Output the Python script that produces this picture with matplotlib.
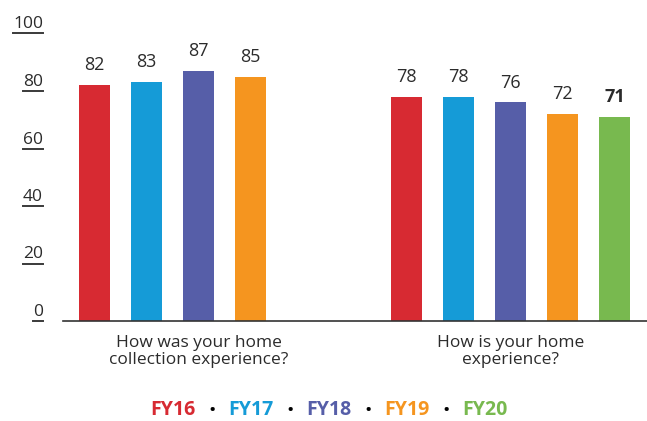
import matplotlib.pyplot as plt
from matplotlib.lines import Line2D

plt.rcParams['font.family'] = ['Open Sans', 'DejaVu Sans']

# survey results per question and year
questions = ["How was your home\ncollection experience?", "How is your home\nexperience?"]
years = ["FY16", "FY17", "FY18", "FY19", "FY20"]
collection_scores = [82, 83, 87, 85]
home_scores = [78, 78, 76, 72, 71]
yticks = [0, 20, 40, 60, 80, 100]

colors = ["#D72A32", "#159BD7", "#565EA8", "#F5951F", "#78B94F"]
text_col = "#2b2b2b"

fig = plt.figure(figsize=(6.47, 4.21), dpi=100)
W, H = 647, 421
ax = fig.add_axes([63 / W, 100 / H, 584 / W, 287.5 / H])

slot = 6  # each question reserves room for 5 bars plus a gap
for g, scores in enumerate([collection_scores, home_scores]):
    for i, v in enumerate(scores):
        x = g * slot + i
        ax.bar(x, v, width=0.6, color=colors[i])
        last = (g == 1 and i == len(scores) - 1)
        ax.annotate(str(v), xy=(x, v), xytext=(0, 15), textcoords='offset pixels',
                    ha='center', va='baseline', fontsize=13, color=text_col,
                    fontweight='bold' if last else 'normal')

ax.set_xlim(-0.606, 10.625)
ax.set_ylim(0, 100)
ax.set_xticks([2, slot + 2])
ax.set_xticklabels(questions, fontsize=12.5, color=text_col, linespacing=1.08)
ax.tick_params(axis='x', length=0, pad=10)
ax.set_yticks([])
for s in ['top', 'right', 'left']:
    ax.spines[s].set_visible(False)
ax.spines['bottom'].set_color('#333333')
ax.spines['bottom'].set_linewidth(1.2)

# y values written above a short underline
ylabels = []
for v in yticks:
    t = ax.annotate(str(v), xy=(0, v), xycoords=('axes fraction', 'data'),
                    xytext=(-20, 5), textcoords='offset pixels',
                    ha='right', va='baseline', fontsize=12.5, color=text_col,
                    annotation_clip=False)
    ylabels.append((t, v))

fig.canvas.draw()
renderer = fig.canvas.get_renderer()
for t, v in ylabels:
    bb = t.get_window_extent(renderer)
    y = ax.transData.transform((0, v))[1]
    fig.add_artist(Line2D([bb.x0 / W, bb.x1 / W], [y / H, y / H],
                          transform=fig.transFigure, color='#3a3a3a', lw=1.4))

# legend line: years coloured, separated by dots
step = 78
cx = 329
for i, yr in enumerate(years):
    x = cx + (i - 2) * step
    fig.text(x / W, 1 / H, yr, ha='center', va='bottom', fontsize=14,
             fontweight='bold', color=colors[i])
    if i < len(years) - 1:
        fig.text((x + step / 2) / W, 1 / H, "•", ha='center', va='bottom',
                 fontsize=14, color='black')

fig.savefig("out.png", dpi=100)
